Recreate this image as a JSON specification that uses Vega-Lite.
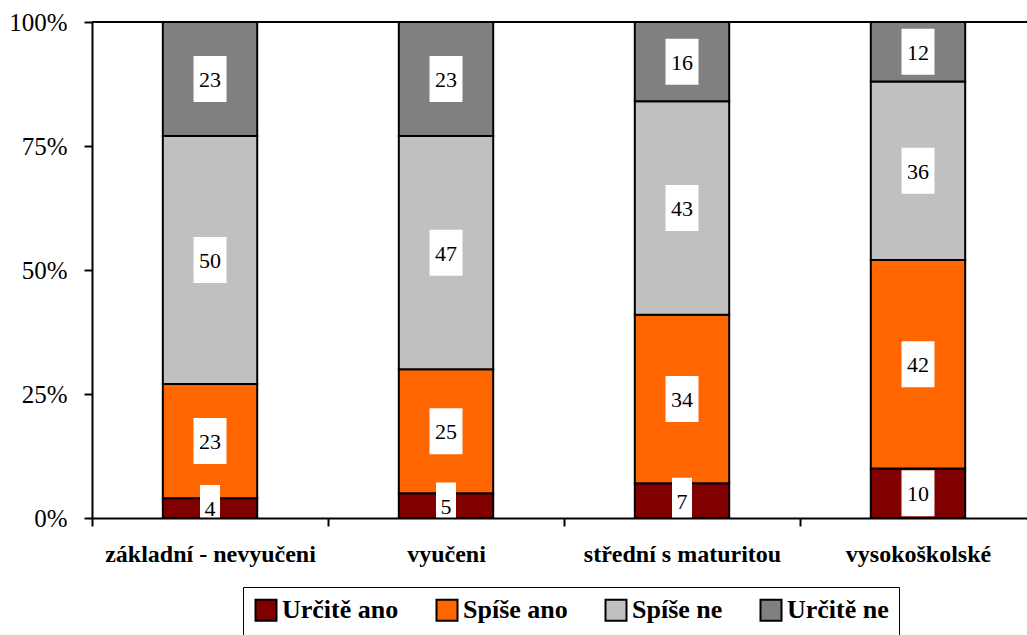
{
  "$schema": "https://vega.github.io/schema/vega-lite/v6.json",
  "autosize": "none",
  "width": 935,
  "height": 496,
  "padding": {"left": 92, "top": 22, "right": 0, "bottom": 117},
  "background": "white",
  "config": {
    "view": {"stroke": null},
    "font": "Liberation Serif"
  },
  "data": {
    "values": [
      {"edu": "základní - nevyučeni", "series": "Určitě ano", "v": 4},
      {"edu": "základní - nevyučeni", "series": "Spíše ano", "v": 23},
      {"edu": "základní - nevyučeni", "series": "Spíše ne", "v": 50},
      {"edu": "základní - nevyučeni", "series": "Určitě ne", "v": 23},
      {"edu": "vyučeni", "series": "Určitě ano", "v": 5},
      {"edu": "vyučeni", "series": "Spíše ano", "v": 25},
      {"edu": "vyučeni", "series": "Spíše ne", "v": 47},
      {"edu": "vyučeni", "series": "Určitě ne", "v": 23},
      {"edu": "střední s maturitou", "series": "Určitě ano", "v": 7},
      {"edu": "střední s maturitou", "series": "Spíše ano", "v": 34},
      {"edu": "střední s maturitou", "series": "Spíše ne", "v": 43},
      {"edu": "střední s maturitou", "series": "Určitě ne", "v": 16},
      {"edu": "vysokoškolské", "series": "Určitě ano", "v": 10},
      {"edu": "vysokoškolské", "series": "Spíše ano", "v": 42},
      {"edu": "vysokoškolské", "series": "Spíše ne", "v": 36},
      {"edu": "vysokoškolské", "series": "Určitě ne", "v": 12}
    ]
  },
  "transform": [
    {"stack": "v", "groupby": ["edu"], "offset": "normalize", "as": ["y0", "y1"]}
  ],
  "encoding": {
    "x": {
      "field": "edu",
      "type": "nominal",
      "sort": null,
      "scale": {"paddingInner": 0.6, "paddingOuter": 0.281, "align": 0.534},
      "axis": {
        "title": null,
        "labelAngle": 0,
        "labelFont": "Liberation Serif",
        "labelFontSize": 24,
        "labelFontWeight": "bold",
        "labelColor": "black",
        "labelPadding": 16,
        "labelLimit": 500,
        "bandPosition": 0,
        "tickExtra": false,
        "tickOffset": -70.8,
        "labelOffset": 70.8,
        "tickSize": 8,
        "tickWidth": 2,
        "tickColor": "black",
        "domainColor": "black",
        "domainWidth": 2,
        "zindex": 2
      }
    }
  },
  "layer": [
    {
      "mark": {"type": "bar", "stroke": "black", "strokeWidth": 2, "width": {"band": 1}},
      "encoding": {
        "y": {
          "field": "y0",
          "type": "quantitative",
          "scale": {"domain": [0, 1]},
          "axis": {
            "title": null,
            "values": [0, 0.25, 0.5, 0.75, 1],
            "format": ".0%",
            "grid": false,
            "labelFont": "Liberation Serif",
            "labelFontSize": 25,
            "labelColor": "black",
            "labelPadding": 17,
            "tickSize": 8,
            "tickWidth": 2,
            "tickColor": "black",
            "domainColor": "black",
            "domainWidth": 2,
            "zindex": 2
          }
        },
        "y2": {"field": "y1"},
        "color": {
          "field": "series",
          "type": "nominal",
          "scale": {
            "domain": ["Určitě ano", "Spíše ano", "Spíše ne", "Určitě ne"],
            "range": ["#800000", "#FF6600", "#C0C0C0", "#808080"]
          },
          "legend": {
            "title": null,
            "orient": "none",
            "legendX": 151,
            "legendY": 565,
            "direction": "horizontal",
            "columns": 4,
            "columnPadding": 33,
            "padding": 10,
            "strokeColor": "black",
            "symbolType": "square",
            "symbolSize": 441,
            "symbolStrokeColor": "black",
            "symbolStrokeWidth": 2,
            "symbolOpacity": 1,
            "labelFont": "Liberation Serif",
            "labelFontSize": 26,
            "labelFontWeight": "bold",
            "labelColor": "black",
            "labelOffset": 3,
            "labelLimit": 400
          }
        }
      }
    },
    {
      "mark": {"type": "rule", "stroke": "black", "strokeWidth": 2},
      "encoding": {"y": {"datum": 1, "type": "quantitative"}, "x": null}
    },
    {
      "transform": [
        {"fold": ["y0", "y1"], "as": ["k", "yy"]},
        {"aggregate": [{"op": "mean", "field": "yy", "as": "ym"}, {"op": "max", "field": "v", "as": "v"}], "groupby": ["edu", "series"]}
      ],
      "layer": [
        {
          "mark": {"type": "point", "filled": true, "fill": "white", "stroke": null, "opacity": 1, "size": 2116},
          "encoding": {
            "y": {"field": "ym", "type": "quantitative"},
            "shape": {
              "condition": {"test": "datum.v < 10", "value": "M-0.435,-1H0.435V1H-0.435Z"},
              "value": "M-0.717,-1H0.717V1H-0.717Z"
            }
          }
        },
        {
          "mark": {"type": "text", "font": "Liberation Serif", "fontSize": 22, "color": "black", "baseline": "middle", "align": "center", "dy": 1},
          "encoding": {
            "y": {"field": "ym", "type": "quantitative"},
            "text": {"field": "v", "type": "quantitative"}
          }
        }
      ]
    }
  ]
}
